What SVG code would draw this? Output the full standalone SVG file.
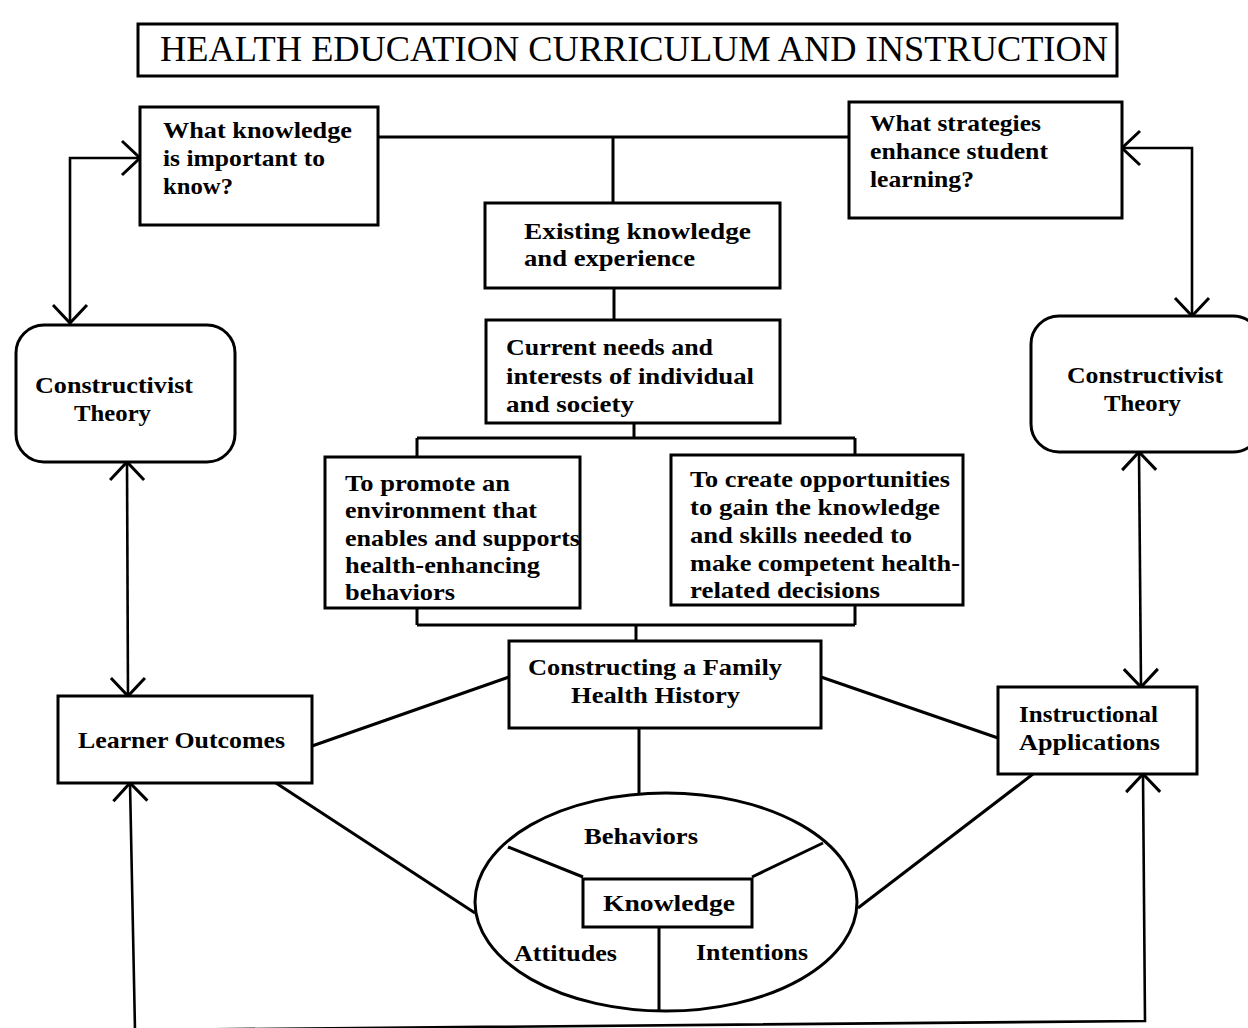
<svg xmlns="http://www.w3.org/2000/svg" width="1248" height="1028" viewBox="0 0 1248 1028">
  <style>
    .box { fill: #fff; stroke: #000; stroke-width: 3; }
    .ln { fill: none; stroke: #000; stroke-width: 3; }
    .arw { fill: none; stroke: #000; stroke-width: 2.6; marker-start: url(#vee); marker-end: url(#vee); }
    .t { font-family: "Liberation Serif", "Times New Roman", serif; font-weight: bold; font-size: 23px; fill: #000; }
    .title { font-family: "Liberation Serif", "Times New Roman", serif; font-size: 35px; fill: #000; }
  </style>
  <defs>
    <marker id="vee" viewBox="-24 -22 30 44" refX="0" refY="0" markerWidth="30" markerHeight="44" markerUnits="userSpaceOnUse" orient="auto-start-reverse" overflow="visible">
      <path d="M-18,-17 L0,0 L-18,17" fill="none" stroke="#000" stroke-width="3"/>
    </marker>
  </defs>

  <rect width="1248" height="1028" fill="#fff"/>

  <!-- title banner -->
  <g id="title">
    <rect class="box" x="138" y="24" width="979" height="52"/>
    <text class="title" x="160" y="61" textLength="948" lengthAdjust="spacingAndGlyphs">HEALTH EDUCATION CURRICULUM AND INSTRUCTION</text>
  </g>

  <!-- connectors -->
  <g id="connectors">
    <!-- knowledge / strategies question bar and central trunk -->
    <path class="ln" d="M378,137 H849"/>
    <path class="ln" d="M613,137 V203"/>
    <path class="ln" d="M614,288 V320"/>
    <path class="ln" d="M634,423 V438 M417,438 H855 M417,438 V457 M855,438 V455"/>
    <path class="ln" d="M417,608 V625 M855,605 V625 M417,625 H855 M636,625 V641"/>
    <!-- family history spokes -->
    <path class="ln" d="M509,677 L312,746"/>
    <path class="ln" d="M821,677 L998,738"/>
    <path class="ln" d="M639,728 V794"/>
    <path class="ln" d="M276,783 L475,913"/>
    <path class="ln" d="M1033,774 L858,908"/>
    <!-- theory feedback loops -->
    <path class="arw" d="M140,158 H70 V323"/>
    <path class="arw" d="M127,462 L128,696"/>
    <path class="arw" d="M130,783 L135,1030 L1145,1021 L1143,774"/>
    <path class="arw" d="M1122,148 H1192 V316"/>
    <path class="arw" d="M1139,452 L1141,687"/>
  </g>

  <g id="q-knowledge">
    <rect class="box" x="140" y="107" width="238" height="118"/>
    <text class="t" x="163" y="138" textLength="189" lengthAdjust="spacingAndGlyphs">What knowledge</text>
    <text class="t" x="163" y="166" textLength="162" lengthAdjust="spacingAndGlyphs">is important to</text>
    <text class="t" x="163" y="194" textLength="70" lengthAdjust="spacingAndGlyphs">know?</text>
  </g>

  <g id="q-strategies">
    <rect class="box" x="849" y="102" width="273" height="116"/>
    <text class="t" x="870" y="131" textLength="171" lengthAdjust="spacingAndGlyphs">What strategies</text>
    <text class="t" x="870" y="159" textLength="178" lengthAdjust="spacingAndGlyphs">enhance student</text>
    <text class="t" x="870" y="187" textLength="104" lengthAdjust="spacingAndGlyphs">learning?</text>
  </g>

  <g id="existing">
    <rect class="box" x="485" y="203" width="295" height="85"/>
    <text class="t" x="524" y="239" textLength="227" lengthAdjust="spacingAndGlyphs">Existing knowledge</text>
    <text class="t" x="524" y="266" textLength="171" lengthAdjust="spacingAndGlyphs">and experience</text>
  </g>

  <g id="current-needs">
    <rect class="box" x="486" y="320" width="294" height="103"/>
    <text class="t" x="506" y="355" textLength="207" lengthAdjust="spacingAndGlyphs">Current needs and</text>
    <text class="t" x="506" y="384" textLength="248" lengthAdjust="spacingAndGlyphs">interests of individual</text>
    <text class="t" x="506" y="412" textLength="128" lengthAdjust="spacingAndGlyphs">and society</text>
  </g>

  <g id="promote">
    <rect class="box" x="325" y="457" width="255" height="151"/>
    <text class="t" x="345" y="491" textLength="165" lengthAdjust="spacingAndGlyphs">To promote an</text>
    <text class="t" x="345" y="518" textLength="192" lengthAdjust="spacingAndGlyphs">environment that</text>
    <text class="t" x="345" y="546" textLength="235" lengthAdjust="spacingAndGlyphs">enables and supports</text>
    <text class="t" x="345" y="573" textLength="195" lengthAdjust="spacingAndGlyphs">health-enhancing</text>
    <text class="t" x="345" y="600" textLength="110" lengthAdjust="spacingAndGlyphs">behaviors</text>
  </g>

  <g id="opportunities">
    <rect class="box" x="671" y="455" width="292" height="150"/>
    <text class="t" x="690" y="487" textLength="260" lengthAdjust="spacingAndGlyphs">To create opportunities</text>
    <text class="t" x="690" y="515" textLength="250" lengthAdjust="spacingAndGlyphs">to gain the knowledge</text>
    <text class="t" x="690" y="543" textLength="222" lengthAdjust="spacingAndGlyphs">and skills needed to</text>
    <text class="t" x="690" y="571" textLength="270" lengthAdjust="spacingAndGlyphs">make competent health-</text>
    <text class="t" x="690" y="598" textLength="190" lengthAdjust="spacingAndGlyphs">related decisions</text>
  </g>

  <g id="family-history">
    <rect class="box" x="509" y="641" width="312" height="87"/>
    <text class="t" x="528" y="675" textLength="254" lengthAdjust="spacingAndGlyphs">Constructing a Family</text>
    <text class="t" x="571" y="703" textLength="169" lengthAdjust="spacingAndGlyphs">Health History</text>
  </g>

  <g id="theory-left">
    <rect class="box" x="16" y="325" width="219" height="137" rx="28" ry="28"/>
    <text class="t" x="35" y="393" textLength="158" lengthAdjust="spacingAndGlyphs">Constructivist</text>
    <text class="t" x="74" y="421" textLength="77" lengthAdjust="spacingAndGlyphs">Theory</text>
  </g>

  <g id="theory-right">
    <rect class="box" x="1031" y="316" width="230" height="136" rx="28" ry="28"/>
    <text class="t" x="1067" y="383" textLength="156" lengthAdjust="spacingAndGlyphs">Constructivist</text>
    <text class="t" x="1104" y="411" textLength="77" lengthAdjust="spacingAndGlyphs">Theory</text>
  </g>

  <g id="learner-outcomes">
    <rect class="box" x="58" y="696" width="254" height="87"/>
    <text class="t" x="78" y="748" textLength="207" lengthAdjust="spacingAndGlyphs">Learner Outcomes</text>
  </g>

  <g id="instructional">
    <rect class="box" x="998" y="687" width="199" height="87"/>
    <text class="t" x="1019" y="722" textLength="139" lengthAdjust="spacingAndGlyphs">Instructional</text>
    <text class="t" x="1019" y="750" textLength="141" lengthAdjust="spacingAndGlyphs">Applications</text>
  </g>

  <!-- domains of health learning -->
  <g id="domains">
    <ellipse class="box" cx="666" cy="902" rx="191" ry="109"/>
    <path class="ln" d="M508,847 L583,877 M823,843 L752,877 M659,927 V1011"/>
    <rect class="box" x="583" y="879" width="169" height="48"/>
    <text class="t" x="584" y="844" textLength="114" lengthAdjust="spacingAndGlyphs">Behaviors</text>
    <text class="t" x="603" y="911" textLength="132" lengthAdjust="spacingAndGlyphs">Knowledge</text>
    <text class="t" x="514" y="961" textLength="103" lengthAdjust="spacingAndGlyphs">Attitudes</text>
    <text class="t" x="696" y="960" textLength="112" lengthAdjust="spacingAndGlyphs">Intentions</text>
  </g>
</svg>
